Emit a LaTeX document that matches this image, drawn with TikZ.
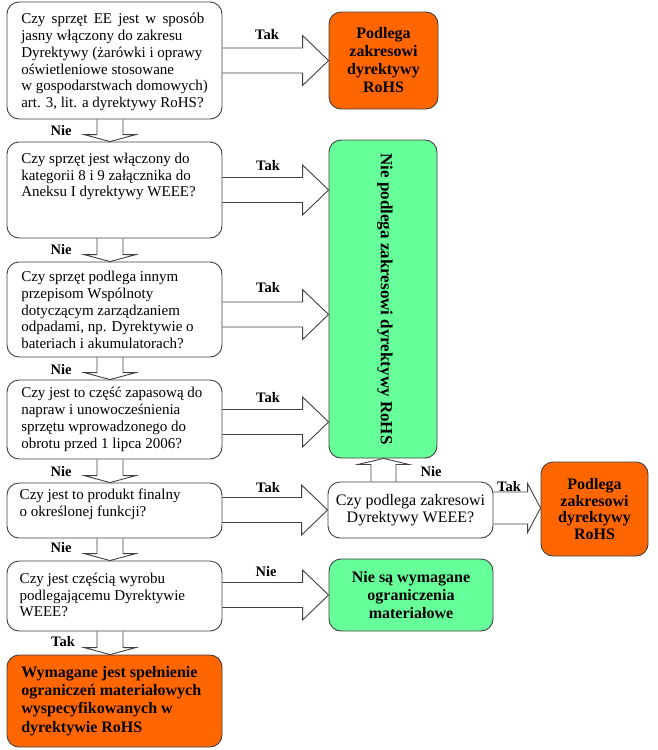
\documentclass[tikz,border=0pt]{standalone}
\usepackage{fontspec}
\setmainfont{Liberation Serif}
\usetikzlibrary{calc}
\definecolor{orng}{HTML}{FF6600}
\definecolor{grn}{HTML}{66FF99}
\definecolor{edge}{HTML}{404040}
\tikzset{
 box/.style={draw=edge, line width=0.9pt, rounded corners=12pt, inner sep=0pt},
 qbox/.style={box, fill=white},
 obox/.style={box, fill=orng},
 gbox/.style={box, fill=grn},
 qtxt/.style={align=left, inner sep=0pt, font=\fontsize{15}{16.8}\selectfont},
 qbtxt/.style={align=left, inner sep=0pt, font=\fontsize{16}{18.3}\selectfont\bfseries},
 btxt/.style={align=center, font=\fontsize{16}{18}\selectfont\bfseries},
 lab/.style={inner sep=0pt, font=\fontsize{14.5}{16}\selectfont\bfseries},
 blk/.style={draw=black!75, line width=0.9pt},
}
% right block arrow: tail, tip, shaft half, head half, head length
\newcommand{\rblk}[5]{\draw[blk] let \p1=#1, \p2=#2 in
  (\x1,\y2+#3) -- (\x2-#5,\y2+#3) -- (\x2-#5,\y2+#4) -- (\x2,\y2) --
  (\x2-#5,\y2-#4) -- (\x2-#5,\y2-#3) -- (\x1,\y2-#3);}
% down block arrow: tail, tip
\newcommand{\dblk}[2]{\draw[blk] let \p1=#1, \p2=#2 in
  (\x1-13pt,\y1) -- (\x1-13pt,\y2+7pt) -- (\x1-26pt,\y2+7pt) -- (\x1,\y2) --
  (\x1+26pt,\y2+7pt) -- (\x1+13pt,\y2+7pt) -- (\x1+13pt,\y1);}
% up block arrow: tail, tip
\newcommand{\ublk}[2]{\draw[blk] let \p1=#1, \p2=#2 in
  (\x1-12.5pt,\y1) -- (\x1-12.5pt,\y2-6pt) -- (\x1-25.5pt,\y2-6pt) -- (\x1,\y2) --
  (\x1+25.5pt,\y2-6pt) -- (\x1+12.5pt,\y2-6pt) -- (\x1+12.5pt,\y1);}

\begin{document}
\begin{tikzpicture}[x=1pt,y=-1pt]
\useasboundingbox (0,0) rectangle (658,750);

% left column boxes
\node[qbox, minimum width=215pt, minimum height=117pt] (b1) at (114.5,60.5) {};
\node[qbox, minimum width=215pt, minimum height=96pt] (b2) at (114.5,190) {};
\node[qbox, minimum width=215pt, minimum height=95pt] (b3) at (114.5,309.5) {};
\node[qbox, minimum width=215pt, minimum height=79pt] (b4) at (114.5,419.5) {};
\node[qbox, minimum width=215pt, minimum height=55pt] (b5) at (114.5,510.5) {};
\node[qbox, minimum width=215pt, minimum height=70pt] (b6) at (114.5,596) {};
\node[obox, minimum width=215pt, minimum height=92pt] (b7) at (114.5,701) {};

% texts of left boxes
\node[qtxt, anchor=west] (t1) at ($(b1.west)+(14.5,1.5)$) {%
\makebox[183pt][s]{Czy sprzęt EE jest w sposób}\\
jasny włączony do zakresu\\
Dyrektywy (żarówki i oprawy\\
oświetleniowe stosowane\\
w gospodarstwach domowych)\\
art. 3, lit. a dyrektywy RoHS?};
\node[qtxt, anchor=west] (t2) at ($(b2.west)+(14.5,-13.5)$) {%
Czy sprzęt jest włączony do\\
kategorii 8 i 9 załącznika do\\
Aneksu I dyrektywy WEEE?};
\node[qtxt, anchor=west] (t3) at ($(b3.west)+(14.5,0.5)$) {%
Czy sprzęt podlega innym\\
przepisom Wspólnoty\\
dotyczącym zarządzaniem\\
odpadami, np. Dyrektywie o\\
bateriach i akumulatorach?};
\node[qtxt, anchor=west] (t4) at ($(b4.west)+(14.5,0)$) {%
Czy jest to część zapasową do\\
napraw i unowocześnienia\\
sprzętu wprowadzonego do\\
obrotu przed 1 lipca 2006?};
\node[qtxt, anchor=west] (t5) at ($(b5.west)+(13,-6)$) {%
Czy jest to produkt finalny\\
o określonej funkcji?};
\node[qtxt, anchor=west] (t6) at ($(b6.west)+(13,-1)$) {%
Czy jest częścią wyrobu\\
podlegającemu Dyrektywie\\
WEEE?};
\node[qbtxt, anchor=west] (t7) at ($(b7.west)+(14.5,0)$) {%
Wymagane jest spełnienie\\
ograniczeń materiałowych\\
wyspecyfikowanych w\\
dyrektywie RoHS};

% right side boxes
\node[obox, btxt, minimum width=109pt, minimum height=97pt] (o1) at (383.5,60.5) {Podlega\\zakresowi\\dyrektywy\\RoHS};
\node[gbox, minimum width=108pt, minimum height=318pt] (g1) at (383,299) {};
\node[btxt, rotate=-90, font=\fontsize{17}{19}\selectfont\bfseries] (g1t) at ($(g1.center)+(2,0)$) {Nie podlega zakresowi dyrektywy RoHS};
\node[qbox, align=center, font=\fontsize{16}{17}\selectfont, minimum width=165pt, minimum height=56pt] (b8) at (410.5,510) {Czy podlega zakresowi\\Dyrektywy WEEE?};
\node[obox, btxt, font=\fontsize{16}{16.7}\selectfont\bfseries, minimum width=107pt, minimum height=94pt] (o2) at (594.5,509) {Podlega\\zakresowi\\dyrektywy\\RoHS};
\node[gbox, btxt, minimum width=164pt, minimum height=72pt] (g2) at (411,595) {Nie są wymagane\\ograniczenia\\materiałowe};

% right arrows
\rblk{(b1.east)}{(o1.west)}{12.5pt}{25pt}{26pt}
\rblk{(b2.east)}{(g1.west |- b2.east)}{12.5pt}{25pt}{26pt}
\rblk{(b3.east)}{($(g1.west |- b3.east)+(0,5)$)}{12.5pt}{25pt}{26pt}
\rblk{(b4.east)}{($(g1.west |- b4.east)+(0,2.5)$)}{12.5pt}{25pt}{26pt}
\rblk{(b5.east)}{(b8.west)}{12.5pt}{25pt}{26pt}
\rblk{(b6.east)}{(g2.west)}{12.5pt}{25pt}{26pt}
\rblk{(b8.east)}{($(o2.west)+(0,-1)$)}{16pt}{24.5pt}{13pt}

% down arrows
\dblk{($(b1.south)+(-4.5,0)$)}{(b2.north)}
\dblk{($(b2.south)+(-4.5,0)$)}{(b3.north)}
\dblk{($(b3.south)+(-4.5,0)$)}{(b4.north)}
\dblk{($(b4.south)+(-4.5,0)$)}{(b5.north)}
\dblk{($(b5.south)+(-4.5,0)$)}{(b6.north)}
\dblk{($(b6.south)+(-4.5,0)$)}{(b7.north)}

% up arrow
\ublk{($(b8.north)+(-27,0)$)}{(g1.south)}

% labels
\node[lab] (l1) at (267,35) {Tak};
\node[lab] (l2) at (268,166) {Tak};
\node[lab] (l3) at (268,288) {Tak};
\node[lab] (l4) at (268,398) {Tak};
\node[lab] (l5) at (268,488) {Tak};
\node[lab] (l6) at (266,572) {Nie};
\node[lab] (l7) at (509,487) {Tak};
\node[lab] (l8) at (431,472) {Nie};
\node[lab] (n1) at (61,131) {Nie};
\node[lab] (n2) at (61,250) {Nie};
\node[lab] (n3) at (61,370) {Nie};
\node[lab] (n4) at (61,472) {Nie};
\node[lab] (n5) at (61,548) {Nie};
\node[lab] (n6) at (63,642) {Tak};
\end{tikzpicture}
\end{document}
